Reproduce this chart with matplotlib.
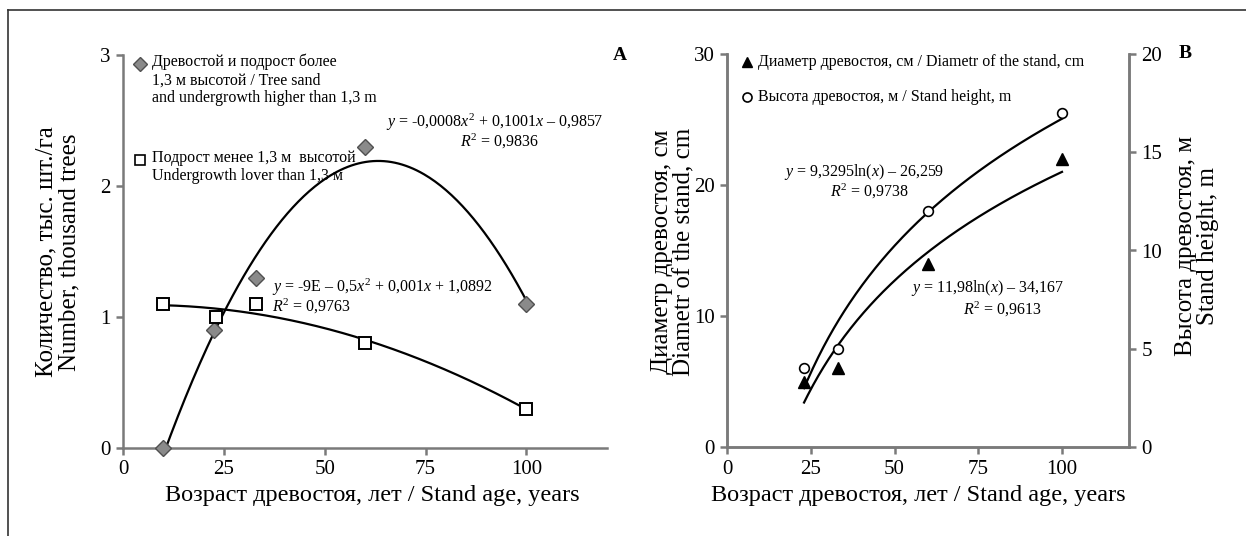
import numpy as np
import matplotlib.pyplot as plt
from matplotlib.lines import Line2D

plt.rcParams['font.family'] = ['Liberation Serif', 'DejaVu Serif']
plt.rcParams['mathtext.fontset'] = 'custom'
plt.rcParams['mathtext.rm'] = 'Liberation Serif'
plt.rcParams['mathtext.it'] = 'Liberation Serif:italic'

# panel A: number of trees, thousand per ha
age_tall = [10, 22.5, 33, 60, 100]
n_tall = [0, 0.9, 1.3, 2.3, 1.1]
age_low = [10, 23, 33, 60, 100]
n_low = [1.1, 1.0, 1.1, 0.8, 0.3]

# panel B: stand diameter (cm) and height (m)
age_b = [23, 33, 60, 100]
diam = [5, 6, 14, 22]
height = [4, 5, 12, 17]

W, H = 1246, 536
SMALL = 11.5


def px(x, y):
    # pixel position of the reference -> figure fraction
    return x / W, 1 - y / H


def style(ax, right=False):
    ax.spines['top'].set_visible(False)
    if not right:
        ax.spines['right'].set_visible(False)
    for s in ax.spines.values():
        s.set_color('#7a7a7a')
        s.set_linewidth(1.8)
    ax.tick_params(colors='#7a7a7a', labelcolor='black', labelsize=15,
                   length=5, width=1.8, direction='out', pad=4)


fig = plt.figure(figsize=(12.46, 5.36), dpi=100)

# frame (only top and left edges are visible)
fig.add_artist(Line2D([8 / W, 1], [1 - 10 / H, 1 - 10 / H], color='#333333', lw=1.2))
fig.add_artist(Line2D([8 / W, 8 / W], [0, 1 - 10 / H], color='#333333', lw=1.2))

# ---------- panel A ----------
ax1 = fig.add_axes([123 / W, 88 / H, 484 / W, 393 / H])
style(ax1)
ax1.set_xlim(0, 120)
ax1.set_ylim(0, 3)
ax1.set_xticks([0, 25, 50, 75, 100])
ax1.set_yticks([0, 1, 2, 3])

xs = np.linspace(min(age_tall), max(age_tall), 200)
c_tall = np.polyfit(age_tall, n_tall, 2)
ax1.plot(xs, np.polyval(c_tall, xs), color='black', lw=1.6, zorder=2)
xs = np.linspace(min(age_low), max(age_low), 200)
c_low = np.polyfit(age_low, n_low, 2)
ax1.plot(xs, np.polyval(c_low, xs), color='black', lw=1.6, zorder=2)

ax1.plot(age_tall, n_tall, 'D', ms=8.5, mfc='#8a8a8a', mec='#505050', mew=1.0,
         ls='none', zorder=3, clip_on=False)
ax1.plot(age_low, n_low, 's', ms=8, mfc='white', mec='black', mew=1.4,
         ls='none', zorder=3, clip_on=False)

# legend of panel A
fig.add_artist(Line2D([px(140, 64)[0]], [px(140, 64)[1]], marker='D', ms=7,
                      mfc='#8a8a8a', mec='#505050', ls='none'))
fig.text(*px(152, 54), 'Древостой и подрост более\n1,3 м высотой / Tree sand\nand undergrowth higher than 1,3 m',
         fontsize=SMALL, va='top', ha='left', linespacing=1.15)
fig.add_artist(Line2D([px(140, 160)[0]], [px(140, 160)[1]], marker='s', ms=7,
                      mfc='white', mec='black', mew=1.2, ls='none'))
fig.text(*px(152, 150), 'Подрост менее 1,3 м  высотой\nUndergrowth lover than 1,3 м',
         fontsize=SMALL, va='top', ha='left', linespacing=1.15)

fig.text(*px(386, 122), r'$y$ = -0,0008$x^2$ + 0,1001$x$ – 0,9857',
         fontsize=SMALL, va='center', ha='left')
fig.text(*px(500, 141), r'$R^2$ = 0,9836', fontsize=SMALL, va='center', ha='center')
fig.text(*px(272, 287), r'$y$ = -9E – 0,5$x^2$ + 0,001$x$ + 1,0892',
         fontsize=SMALL, va='center', ha='left')
fig.text(*px(272, 306), r'$R^2$ = 0,9763', fontsize=SMALL, va='center', ha='left')
fig.text(*px(620, 56), 'A', fontsize=14, fontweight='bold', va='center', ha='center')

fig.text(*px(58, 252), 'Количество, тыс. шт./га\nNumber, thousand trees',
         fontsize=18, rotation=90, va='center', ha='center', linespacing=1.05)
fig.text(*px(372, 495), 'Возраст древостоя, лет / Stand age, years',
         fontsize=17.5, va='center', ha='center')

# ---------- panel B ----------
ax3 = fig.add_axes([727 / W, 89 / H, 402 / W, 393 / H])
style(ax3, right=True)
ax3.set_xlim(0, 120)
ax3.set_ylim(0, 30)
ax3.set_xticks([0, 25, 50, 75, 100])
ax3.set_yticks([0, 10, 20, 30])
ax4 = ax3.twinx()
style(ax4, right=True)
ax4.set_ylim(0, 20)
ax4.set_yticks([0, 5, 10, 15, 20])

xs = np.linspace(min(age_b), max(age_b), 200)
c_d = np.polyfit(np.log(age_b), diam, 1)
ax3.plot(xs, np.polyval(c_d, np.log(xs)), color='black', lw=1.6, zorder=2)
c_h = np.polyfit(np.log(age_b), height, 1)
ax4.plot(xs, np.polyval(c_h, np.log(xs)), color='black', lw=1.6, zorder=2)

ax3.plot(age_b, diam, '^', ms=8.5, mfc='black', mec='black', ls='none', zorder=3)
ax4.plot(age_b, height, 'o', ms=7, mfc='white', mec='black', mew=1.2,
         ls='none', zorder=3)

fig.add_artist(Line2D([px(747, 62)[0]], [px(747, 62)[1]], marker='^', ms=7.5,
                      mfc='black', mec='black', ls='none'))
fig.text(*px(758, 62), 'Диаметр древостоя, см / Diametr of the stand, cm',
         fontsize=SMALL, va='center', ha='left')
fig.add_artist(Line2D([px(747, 97)[0]], [px(747, 97)[1]], marker='o', ms=6.5,
                      mfc='white', mec='black', mew=1.2, ls='none'))
fig.text(*px(758, 97), 'Высота древостоя, м / Stand height, m',
         fontsize=SMALL, va='center', ha='left')

fig.text(*px(864, 172), r'$y$ = 9,3295ln($x$) – 26,259', fontsize=SMALL, va='center', ha='center')
fig.text(*px(870, 191), r'$R^2$ = 0,9738', fontsize=SMALL, va='center', ha='center')
fig.text(*px(988, 288), r'$y$ = 11,98ln($x$) – 34,167', fontsize=SMALL, va='center', ha='center')
fig.text(*px(1003, 309), r'$R^2$ = 0,9613', fontsize=SMALL, va='center', ha='center')
fig.text(*px(1185, 53), 'B', fontsize=14, fontweight='bold', va='center', ha='center')

fig.text(*px(673, 252), 'Диаметр древостоя, см\nDiametr of the stand, cm',
         fontsize=18, rotation=90, va='center', ha='center', linespacing=1.05)
fig.text(*px(1197, 246), 'Высота древостоя, м\nStand height, m',
         fontsize=18, rotation=90, va='center', ha='center', linespacing=1.05)
fig.text(*px(918, 495), 'Возраст древостоя, лет / Stand age, years',
         fontsize=17.5, va='center', ha='center')

fig.savefig('out.png', dpi=100)
